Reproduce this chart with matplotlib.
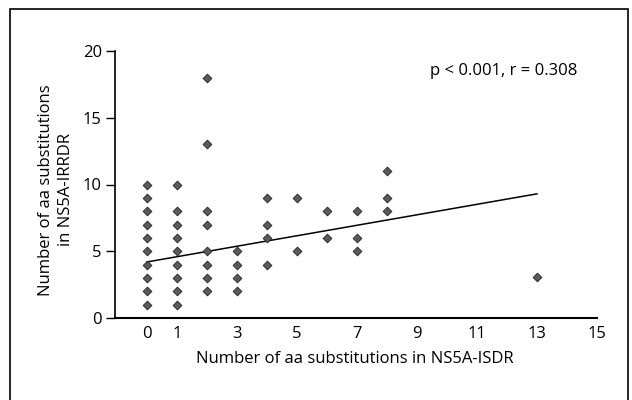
import matplotlib
matplotlib.use("Agg")
import matplotlib.pyplot as plt
from matplotlib.patches import Rectangle

plt.rcParams['font.family'] = ['Open Sans', 'DejaVu Sans']

# points: ISDR substitutions (x) vs IRRDR substitutions (y)
isdr = [0, 0, 0, 0, 0, 0, 0, 0, 0, 0,
        1, 1, 1, 1, 1, 1, 1, 1, 1,
        2, 2, 2, 2, 2, 2, 2, 2,
        3, 3, 3, 3,
        4, 4, 4, 4,
        5, 5,
        6, 6,
        7, 7, 7,
        8, 8, 8,
        13]
irrdr = [1, 2, 3, 4, 5, 6, 7, 8, 9, 10,
         1, 2, 3, 4, 5, 6, 7, 8, 10,
         2, 3, 4, 5, 7, 8, 13, 18,
         2, 3, 4, 5,
         4, 6, 7, 9,
         5, 9,
         6, 8,
         5, 6, 8,
         8, 9, 11,
         3.1]

# regression line end points
fit_x = [0, 13]
fit_y = [4.2, 9.3]

x_ticks = [0, 1, 3, 5, 7, 9, 11, 13, 15]
y_ticks = [0, 5, 10, 15, 20]

fs = 12

fig = plt.figure(figsize=(6.32, 4.0), dpi=100)
ax = fig.add_axes([115 / 632, 1 - 318 / 400, (597 - 115) / 632, (318 - 51) / 400])

ax.scatter(isdr, irrdr, marker='D', s=20, color='#5a5a5a', edgecolor='#222222', linewidth=0.6, zorder=3)
ax.plot(fit_x, fit_y, color='black', lw=1.1)

ax.set_xlim(-1.07, 15)
ax.set_ylim(0, 20)
ax.set_xticks(x_ticks)
ax.set_yticks(y_ticks)
ax.tick_params(axis='x', length=0, pad=6, labelsize=fs)
ax.tick_params(axis='y', length=6.5, width=1, pad=3, labelsize=fs)

for side in ['top', 'right']:
    ax.spines[side].set_visible(False)
ax.spines['left'].set_linewidth(1.2)
ax.spines['bottom'].set_linewidth(1.5)

fig.text(430 / 632, 1 - 71 / 400, 'p < 0.001, r = 0.308', fontsize=fs, ha='left', va='center')
fig.text(56 / 632, 1 - 190 / 400, 'Number of aa substitutions\nin NS5A-IRRDR', fontsize=fs,
         rotation=90, ha='center', va='center', multialignment='center', linespacing=1.3)
fig.text(355 / 632, 1 - 359 / 400, 'Number of aa substitutions in NS5A-ISDR', fontsize=fs,
         ha='center', va='center')

# frame around the figure
fig.patches.append(Rectangle((10.5 / 632, -0.05), (628 - 10.5) / 632, 1.05 - 9.5 / 400,
                             transform=fig.transFigure, fill=False, edgecolor='black', lw=1.2))

fig.savefig('out.png', dpi=100)
